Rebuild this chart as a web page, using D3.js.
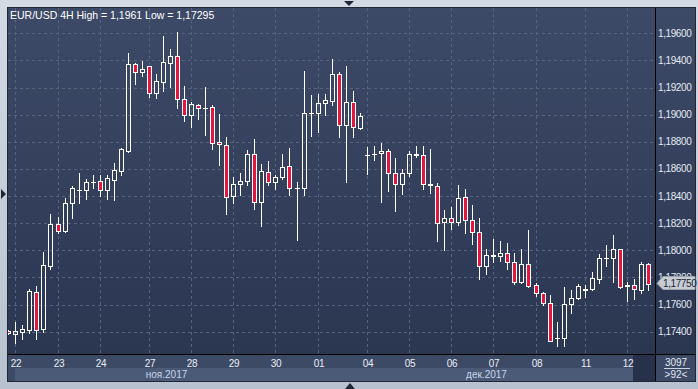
<!DOCTYPE html>
<html>
<head>
<meta charset="utf-8">
<script src="https://cdn.jsdelivr.net/npm/d3@7"></script>
<style>
html, body { margin: 0; padding: 0; background: #c3ccd9; }
svg { display: block; font-family: "Liberation Sans", Arial, sans-serif; }
</style>
</head>
<body>
<svg id="chart" width="698" height="389"></svg>
<script>
// EUR/USD 4H, 21 nov - 12 dec 2017
var title = "EUR/USD 4H High = 1,1961 Low = 1,17295";

// trading days and how many 4H bars each one has on screen
var days       = ["21","22","23","24","26","27","28","29","30","01","03","04","05","06","07","08","10","11","12"];
var barsPerDay = [ 1,   6,   6,   6,   1,   6,   6,   6,   6,   6,   1,   6,   6,   6,   6,   6,   1,   6,   4 ];
var months     = ["ноя.2017", "дек.2017"];
var monthStart = ["22", "01"];

var open = [1.17405,1.17386,1.17400,1.17415,1.17691,1.17422,1.17887,1.18194,1.18145,1.18347,
            1.18447,1.18445,1.18506,1.18513,1.18445,1.18521,1.18587,1.18735,1.19376,1.19313,
            1.19357,1.19158,1.19239,1.19383,1.19430,1.19113,1.19000,1.19069,1.19048,1.19055,
            1.18797,1.18774,1.18403,1.18491,1.18513,1.18708,1.18359,1.18575,1.18506,1.18538,
            1.18620,1.18457,1.18456,1.19012,1.19015,1.19084,1.19103,1.19298,1.18922,1.19091,
            1.18904,1.18700,1.18711,1.18715,1.18732,1.18568,1.18487,1.18568,1.18708,1.18701,
            1.18486,1.18474,1.18207,1.18236,1.18207,1.18391,1.18221,1.18133,1.17882,1.17963,
            1.17956,1.17978,1.17912,1.17769,1.17897,1.17742,1.17682,1.17608,1.17350,1.17352,
            1.17602,1.17651,1.17711,1.17717,1.17787,1.17941,1.17941,1.18008,1.17739,1.17742,
            1.17708,1.17899];
var high = [1.17416,1.17472,1.17450,1.17717,1.17737,1.17988,1.18270,1.18248,1.18384,1.18474,
            1.18568,1.18524,1.18555,1.18555,1.18555,1.18642,1.18754,1.19455,1.19383,1.19396,
            1.19362,1.19300,1.19580,1.19484,1.19610,1.19212,1.19094,1.19079,1.19204,1.19071,
            1.19005,1.18836,1.18541,1.18570,1.18740,1.18821,1.18637,1.18659,1.18555,1.18710,
            1.18754,1.18504,1.19322,1.19145,1.19153,1.19155,1.19411,1.19315,1.19359,1.19175,
            1.19010,1.18760,1.18769,1.18791,1.18745,1.18679,1.18600,1.18732,1.18769,1.18769,
            1.18747,1.18494,1.18297,1.18320,1.18482,1.18452,1.18334,1.18236,1.18010,1.18084,
            1.18069,1.18052,1.17978,1.18010,1.18150,1.17761,1.17695,1.17671,1.17472,1.17728,
            1.17708,1.17750,1.17742,1.17843,1.17971,1.18039,1.18113,1.18010,1.17769,1.17787,
            1.17912,1.17909];
var low  = [1.17383,1.17315,1.17344,1.17393,1.17346,1.17400,1.17865,1.18130,1.18135,1.18241,
            1.18347,1.18376,1.18457,1.18401,1.18376,1.18371,1.18555,1.18727,1.19228,1.19287,
            1.19133,1.19125,1.19177,1.19204,1.19052,1.18956,1.18912,1.18970,1.18850,1.18749,
            1.18629,1.18270,1.18351,1.18408,1.18484,1.18307,1.18179,1.18484,1.18454,1.18526,
            1.18408,1.18076,1.18408,1.18843,1.18875,1.18998,1.19074,1.18838,1.18506,1.18838,
            1.18897,1.18565,1.18668,1.18359,1.18440,1.18292,1.18415,1.18550,1.18690,1.18450,
            1.18423,1.18071,1.18003,1.18157,1.18189,1.18130,1.18049,1.17791,1.17828,1.17916,
            1.17924,1.17865,1.17754,1.17761,1.17732,1.17666,1.17599,1.17328,1.17295,1.17297,
            1.17540,1.17644,1.17656,1.17710,1.17756,1.17887,1.17769,1.17720,1.17629,1.17644,
            1.17683,1.17708];
var close = [1.17391,1.17403,1.17420,1.17700,1.17415,1.17890,1.18194,1.18145,1.18347,1.18457,
             1.18444,1.18506,1.18504,1.18445,1.18531,1.18590,1.18745,1.19372,1.19313,1.19335,
             1.19158,1.19246,1.19386,1.19430,1.19113,1.19000,1.19077,1.19047,1.19050,1.18794,
             1.18782,1.18395,1.18487,1.18509,1.18708,1.18359,1.18583,1.18506,1.18538,1.18612,
             1.18457,1.18460,1.19010,1.19015,1.19084,1.19106,1.19298,1.18922,1.19091,1.18907,
             1.18988,1.18703,1.18709,1.18732,1.18568,1.18487,1.18568,1.18708,1.18704,1.18487,
             1.18482,1.18204,1.18236,1.18207,1.18384,1.18221,1.18133,1.17882,1.17963,1.17960,
             1.17978,1.17912,1.17769,1.17897,1.17739,1.17682,1.17608,1.17334,1.17353,1.17602,
             1.17646,1.17735,1.17713,1.17794,1.17941,1.17944,1.18008,1.17732,1.17742,1.17713,
             1.17899,1.17750];

var yTicks = [1.174, 1.176, 1.178, 1.180, 1.182, 1.184, 1.186, 1.188, 1.190, 1.192, 1.194, 1.196];
var lastPrice = 1.1775;
var totalBars = "3097";
var shownBars = ">92<";

var n = close.length;
var svg = d3.select("#chart");
var fmt = d3.formatLocale({decimal: ",", thousands: " ", grouping: [3], currency: ["", ""]}).format(".5f");

// plot box
var L = 8, R = 655, T = 8, B = 354, AX = 695, BOT = 381;

var x = d3.scalePoint().domain(d3.range(n)).range([8.3, 648.0]);
var y = d3.scaleLinear().domain([1.174, 1.196]).range([331.7, 33.3]);

// bar index where each day starts
var starts = [];
barsPerDay.reduce(function(acc, b, i) { starts.push(acc); return acc + b; }, 0);

var defs = svg.append("defs");
var grad = defs.append("linearGradient").attr("id", "bg")
    .attr("gradientUnits", "userSpaceOnUse")
    .attr("x1", 0).attr("y1", T).attr("x2", 0).attr("y2", B);
grad.append("stop").attr("offset", 0).attr("stop-color", "#3d4a67");
grad.append("stop").attr("offset", 1).attr("stop-color", "#2b3651");
var fr = defs.append("linearGradient").attr("id", "frame").attr("x1", 0).attr("y1", 0).attr("x2", 0).attr("y2", 1);
fr.append("stop").attr("offset", 0).attr("stop-color", "#d3dae4");
fr.append("stop").attr("offset", 1).attr("stop-color", "#b7c1cf");
defs.append("clipPath").attr("id", "plot").append("rect")
    .attr("x", L).attr("y", T).attr("width", R - L).attr("height", B - T);

// outer frame
svg.append("rect").attr("width", 698).attr("height", 389).attr("fill", "url(#frame)");
svg.append("rect").attr("x", L - 0.5).attr("y", T - 0.5).attr("width", AX - L + 1).attr("height", BOT - T + 1)
    .attr("fill", "url(#bg)").attr("stroke", "#202838");

// little arrows on the frame
svg.append("path").attr("d", "M344,1 L354,1 L349,6 Z").attr("fill", "#1e2738");
svg.append("path").attr("d", "M345,389 L355,389 L350,383 Z").attr("fill", "#1e2738");
svg.append("path").attr("d", "M1,189 L1,199 L6,194 Z").attr("fill", "#1e2738");

// grid
var grid = svg.append("g").attr("clip-path", "url(#plot)")
    .attr("stroke", "#55637f").attr("stroke-dasharray", "3,3").attr("stroke-width", 1);
grid.selectAll("line.h").data(yTicks).enter().append("line")
    .attr("x1", L).attr("x2", R)
    .attr("y1", function(d) { return Math.round(y(d)) + 0.5; })
    .attr("y2", function(d) { return Math.round(y(d)) + 0.5; });
var dayIdx = starts.filter(function(s, i) { return barsPerDay[i] > 1; });
grid.selectAll("line.v").data(dayIdx).enter().append("line")
    .attr("y1", T).attr("y2", B)
    .attr("x1", function(d) { return Math.round(x(d)) + 0.5; })
    .attr("x2", function(d) { return Math.round(x(d)) + 0.5; });

// candles
var bars = d3.range(n).map(function(i) {
    return {i: i, o: open[i], h: high[i], l: low[i], c: close[i]};
});
var cg = svg.append("g").attr("clip-path", "url(#plot)");
var candle = cg.selectAll("g.c").data(bars).enter().append("g");
candle.each(function(d) {
    var g = d3.select(this);
    var cx = Math.round(x(d.i));
    var top = Math.round(y(Math.max(d.o, d.c))) + 0.5;
    var bot = Math.round(y(Math.min(d.o, d.c))) + 0.5;
    var hi = Math.round(y(d.h)), lo = Math.round(y(d.l)) + 1;
    g.append("line").attr("x1", cx + 0.5).attr("x2", cx + 0.5).attr("y1", hi).attr("y2", top)
        .attr("stroke", "#ffffff");
    g.append("line").attr("x1", cx + 0.5).attr("x2", cx + 0.5).attr("y1", bot).attr("y2", lo)
        .attr("stroke", "#ffffff");
    if (bot - top < 1) {
        g.append("line").attr("x1", cx - 2).attr("x2", cx + 3).attr("y1", top).attr("y2", top)
            .attr("stroke", "#ffffff");
    } else {
        g.append("rect").attr("x", cx - 1.5).attr("y", top).attr("width", 4).attr("height", bot - top)
            .attr("fill", d.c < d.o ? "#e3163d" : "none").attr("stroke", "#ffffff");
    }
});

// title
svg.append("text").attr("x", 10).attr("y", 19).attr("fill", "#ffffff")
    .attr("font-size", "10.5px").text(title);

// date strip
svg.append("rect").attr("x", L).attr("y", B + 1).attr("width", AX - L).attr("height", BOT - B - 1)
    .attr("fill", "#3d4a66");
var mx = months.map(function(m, k) {
    var a = Math.round(x(starts[days.indexOf(monthStart[k])]));
    var b = k + 1 < months.length ? Math.round(x(starts[days.indexOf(monthStart[k + 1])])) : R;
    return {name: m, x0: a, x1: b};
});
svg.selectAll("rect.m").data(mx).enter().append("rect")
    .attr("x", function(d) { return d.x0; }).attr("y", 368)
    .attr("width", function(d) { return d.x1 - d.x0; }).attr("height", BOT - 368)
    .attr("fill", "#4a5a77");
svg.selectAll("text.m").data(mx).enter().append("text")
    .attr("x", function(d) { return (d.x0 + d.x1) / 2; }).attr("y", 377.5)
    .attr("text-anchor", "middle").attr("font-size", "10px").attr("fill", "#c9d6ea")
    .text(function(d) { return d.name; });
svg.append("rect").attr("x", 633).attr("y", B + 1).attr("width", R - 633).attr("height", BOT - B - 1)
    .attr("fill", "#27324a");

var dayLab = days.map(function(d, i) { return {t: d, i: starts[i], b: barsPerDay[i]}; })
    .filter(function(d) { return d.b > 1; });
svg.selectAll("text.d").data(dayLab).enter().append("text")
    .attr("x", function(d) { return Math.round(x(d.i)) + 1; }).attr("y", 366.5)
    .attr("text-anchor", "middle").attr("font-size", "10px").attr("fill", "#e8edf5")
    .attr("letter-spacing", "-0.3px")
    .text(function(d) { return d.t; });

// axis lines
svg.append("line").attr("x1", L).attr("x2", AX).attr("y1", B + 0.5).attr("y2", B + 0.5).attr("stroke", "#000");
svg.append("line").attr("x1", R + 0.5).attr("x2", R + 0.5).attr("y1", T).attr("y2", BOT).attr("stroke", "#000");

// price axis
svg.selectAll("text.y").data(yTicks).enter().append("text")
    .attr("x", 658).attr("y", function(d) { return y(d) + 3.5; })
    .attr("font-size", "10px").attr("fill", "#e3e9f3").attr("letter-spacing", "-0.4px")
    .text(function(d) { return fmt(d); });

// last price marker
var py = Math.round(y(lastPrice)) - 1;
svg.append("path")
    .attr("d", "M657," + (py + 0.5) + " L663," + (py - 6.5) + " L695," + (py - 6.5) + " L695," + (py + 6.5) + " L663," + (py + 6.5) + " Z")
    .attr("fill", "#c7ccd3").attr("stroke", "#9aa3b0");
svg.append("text").attr("x", 663).attr("y", py + 4).attr("font-size", "10px").attr("fill", "#1a2538")
    .attr("letter-spacing", "-0.4px").text(fmt(lastPrice));

// bar counter
svg.append("text").attr("x", 676).attr("y", 366).attr("text-anchor", "middle")
    .attr("font-size", "10px").attr("fill", "#e3e9f3").text(totalBars);
svg.append("line").attr("x1", 664).attr("x2", 690).attr("y1", 368.5).attr("y2", 368.5).attr("stroke", "#c9d2e0");
svg.append("text").attr("x", 676).attr("y", 378).attr("text-anchor", "middle")
    .attr("font-size", "10px").attr("fill", "#e3e9f3").text(shownBars);
</script>
</body>
</html>
